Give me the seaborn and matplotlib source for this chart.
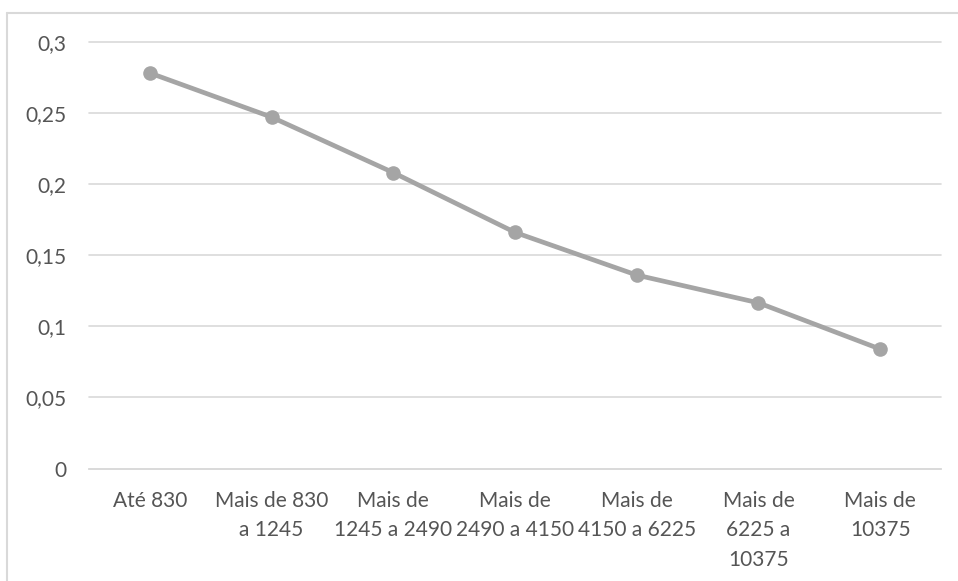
import matplotlib
matplotlib.use("Agg")
import matplotlib.pyplot as plt
from matplotlib.lines import Line2D
import seaborn as sns
import pandas as pd

# Income brackets (Portuguese labels) and the rate for each bracket
categories = [
    "Até 830",
    "Mais de 830\na 1245",
    "Mais de\n1245 a 2490",
    "Mais de\n2490 a 4150",
    "Mais de\n4150 a 6225",
    "Mais de\n6225 a\n10375",
    "Mais de\n10375",
]
values = [0.278, 0.247, 0.208, 0.166, 0.136, 0.1165, 0.084]

yticks = [0, 0.05, 0.10, 0.15, 0.20, 0.25, 0.30]
ytick_labels = ["0", "0,05", "0,1", "0,15", "0,2", "0,25", "0,3"]

df = pd.DataFrame({"faixa": categories, "valor": values})

sns.set_theme(style="white")
plt.rcParams["font.family"] = ["Lato", "DejaVu Sans"]

text_color = "#555555"
grid_color = "#D9D9D9"
line_color = "#A5A5A5"

fig = plt.figure(figsize=(9.58, 5.81), dpi=100)
ax = fig.add_axes([89 / 958, 1 - 468.6 / 581, (941 - 89) / 958, (468.6 - 41.7) / 581])

sns.lineplot(
    data=df, x="faixa", y="valor", ax=ax, sort=False,
    color=line_color, linewidth=3.4, marker="o", markersize=10.5,
    markeredgewidth=0, markerfacecolor=line_color,
)

ax.set_xlim(-0.5, len(categories) - 0.5)
ax.set_ylim(0, 0.3)
ax.set_yticks(yticks)
ax.set_yticklabels(ytick_labels)
ax.set_xticks(range(len(categories)))
ax.set_xticklabels(categories, linespacing=1.6)

ax.set_xlabel("")
ax.set_ylabel("")

ax.yaxis.grid(True, color=grid_color, linewidth=1.2)
ax.set_axisbelow(True)
for gl in ax.get_ygridlines():
    gl.set_clip_on(False)

for side in ["top", "right", "left"]:
    ax.spines[side].set_visible(False)
ax.spines["bottom"].set_color(grid_color)
ax.spines["bottom"].set_linewidth(1.2)

ax.tick_params(axis="both", length=0, labelsize=15, labelcolor=text_color)
ax.tick_params(axis="y", pad=16)
ax.tick_params(axis="x", pad=16)

# Outer chart-area border (top and left edges)
fig.add_artist(Line2D([7 / 958, 1], [1 - 13 / 581, 1 - 13 / 581],
                      transform=fig.transFigure, color=grid_color, linewidth=1.5))
fig.add_artist(Line2D([7 / 958, 7 / 958], [0, 1 - 13 / 581],
                      transform=fig.transFigure, color=grid_color, linewidth=1.5))

fig.savefig("out.png", dpi=100)
